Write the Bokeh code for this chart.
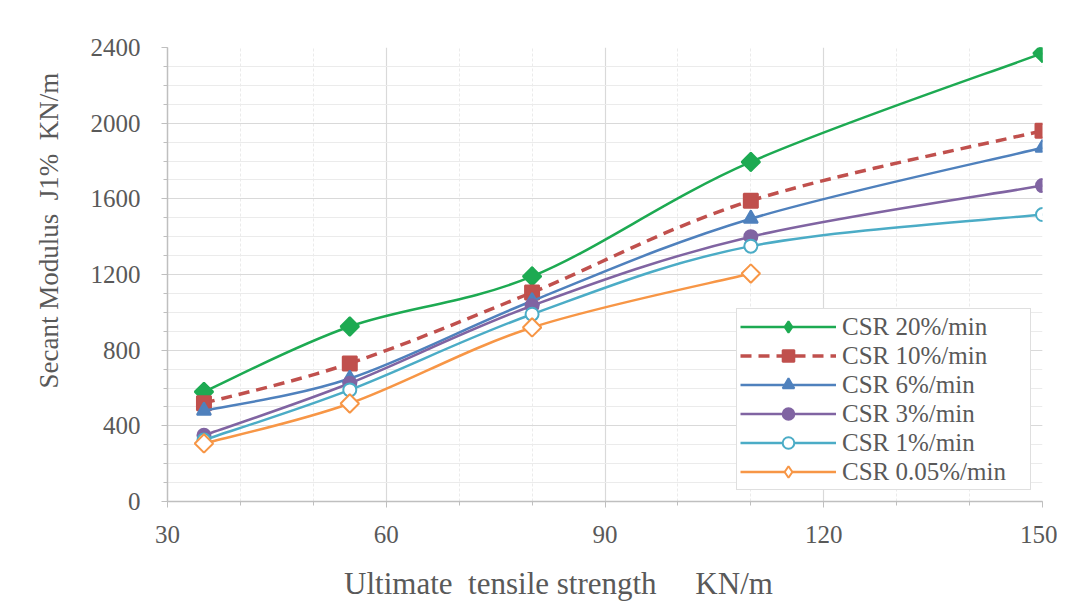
import math
from bokeh.plotting import figure
from bokeh.models import Range1d, FixedTicker, Legend, LegendItem, ColumnDataSource
from bokeh.embed import file_html
from bokeh.resources import INLINE

# ---- data ----
x_vals = [35, 55, 80, 110, 150]
labels = ["CSR 20%/min", "CSR 10%/min", "CSR 6%/min", "CSR 3%/min", "CSR 1%/min", "CSR 0.05%/min"]
csr_20 = [580, 925, 1190, 1795, 2370]
csr_10 = [520, 730, 1105, 1590, 1960]
csr_6 = [480, 650, 1060, 1495, 1870]
csr_3 = [350, 625, 1035, 1400, 1670]
csr_1 = [325, 590, 990, 1350, 1517]
csr_005 = [307, 518, 920, 1205]
x_ticks = [30, 60, 90, 120, 150]
y_ticks = [0, 400, 800, 1200, 1600, 2000, 2400]
x_minor = list(range(30, 151, 10))
y_minor = list(range(0, 2401, 100))

series = [csr_20, csr_10, csr_6, csr_3, csr_1, csr_005]
colors = ["#1daa52", "#c0504d", "#4f81bd", "#8064a2", "#4bacc6", "#f79646"]
markers = ["square", "square", "triangle", "circle", "circle", "square"]
legend_markers = ["diamond", "square", "triangle", "circle", "circle", "diamond"]
angles = [math.pi / 4, 0, 0, 0, 0, math.pi / 4]
msizes = [13, 14, 14, 13, 13, 13]
legend_sizes = [18, 14, 14, 13, 13, 18]
mfill = [True, True, True, True, False, False]
dashes = ["solid", "11 7", "solid", "solid", "solid", "solid"]
lwidths = [2.5, 3.5, 2.5, 2.5, 2.5, 2.5]

FONT = "Liberation Serif"
GRAY = "#595959"
NB = "\u00a0"

p = figure(width=1057, height=606, output_backend="svg", toolbar_location=None,
           x_range=Range1d(30, 150), y_range=Range1d(0, 2400),
           min_border_left=167, min_border_right=15, min_border_top=47, min_border_bottom=105,
           background_fill_color="white", border_fill_color="white")
p.outline_line_color = None

for ax, ticks, minor in ((p.xaxis[0], x_ticks, x_minor), (p.yaxis[0], y_ticks, y_minor)):
    ax.ticker = FixedTicker(ticks=ticks, minor_ticks=minor)
    ax.axis_line_color = "#bfbfbf"
    ax.axis_line_width = 1.5
    ax.major_tick_line_color = "#bfbfbf"
    ax.minor_tick_line_color = "#bfbfbf"
    ax.major_tick_in = 0
    ax.major_tick_out = 6
    ax.minor_tick_in = 0
    ax.minor_tick_out = 4
    ax.major_label_text_font = FONT
    ax.major_label_text_font_size = "25px"
    ax.major_label_text_color = GRAY
    ax.axis_label_text_font = FONT
    ax.axis_label_text_font_style = "normal"
    ax.axis_label_text_color = GRAY

p.xaxis.axis_label_text_font_size = "31px"
p.yaxis.axis_label_text_font_size = "27px"
p.xaxis.axis_label = "Ultimate" + NB + " tensile strength" + NB * 4 + " KN/m" + NB * 12
p.yaxis.axis_label = NB * 13 + "Secant Modulus" + NB + " J1%" + NB + " KN/m"
p.xaxis.major_label_standoff = 18
p.yaxis.major_label_standoff = 21
p.xaxis.axis_label_standoff = 20
p.yaxis.axis_label_standoff = 24

for g in (p.xgrid[0], p.ygrid[0]):
    g.grid_line_color = "#d9d9d9"
    g.grid_line_width = 1.2
    g.minor_grid_line_color = "#ebebeb"
    g.minor_grid_line_width = 1
p.xgrid[0].minor_grid_line_dash = "3 2"


def smooth_controls(xs, ys):
    """Catmull-Rom style bezier control points (Excel-like smoothing) computed from data."""
    n = len(xs)
    x0s, y0s, x1s, y1s, cx0, cy0, cx1, cy1 = [], [], [], [], [], [], [], []
    for i in range(n - 1):
        pa = (xs[i - 1], ys[i - 1]) if i > 0 else (xs[i], ys[i])
        pb = (xs[i], ys[i])
        pc = (xs[i + 1], ys[i + 1])
        pd = (xs[i + 2], ys[i + 2]) if i + 2 < n else (xs[i + 1], ys[i + 1])
        x0s.append(pb[0]); y0s.append(pb[1])
        x1s.append(pc[0]); y1s.append(pc[1])
        cx0.append(pb[0] + (pc[0] - pa[0]) / 6.0)
        cy0.append(pb[1] + (pc[1] - pa[1]) / 6.0)
        cx1.append(pc[0] - (pd[0] - pb[0]) / 6.0)
        cy1.append(pc[1] - (pd[1] - pb[1]) / 6.0)
    return dict(x0=x0s, y0=y0s, x1=x1s, y1=y1s, cx0=cx0, cy0=cy0, cx1=cx1, cy1=cy1)


items = []
for lab, ys, col, mk, lmk, ang, ms, lms, fill, dash, lw in zip(labels, series, colors, markers, legend_markers,
                                                              angles, msizes, legend_sizes, mfill, dashes, lwidths):
    xs = x_vals[:len(ys)]
    src = ColumnDataSource(smooth_controls(xs, ys))
    br = p.bezier(x0="x0", y0="y0", x1="x1", y1="y1", cx0="cx0", cy0="cy0", cx1="cx1", cy1="cy1",
                  source=src, line_color=col, line_width=lw, line_dash=dash)
    fc = col if fill else "white"
    # marker used for the legend swatch (drawn underneath the plot marker)
    lr = p.scatter(xs, ys, marker=lmk, size=lms if ang else ms, line_color=col, line_width=2, fill_color=fc)
    if ang:
        # rotated square = Excel-style diamond in the plot area
        p.scatter(xs, ys, marker=mk, angle=ang, size=ms, line_color=col, line_width=2, fill_color=fc)
    items.append(LegendItem(label=lab, renderers=[br, lr]))

legend = Legend(items=items, location="bottom_right", margin=11, padding=3,
                glyph_width=96, glyph_height=29, spacing=0, label_standoff=6, label_width=185,
                label_text_font=FONT, label_text_font_size="25px", label_text_color=GRAY,
                border_line_color="#bfbfbf", border_line_width=1.5,
                background_fill_color="white", background_fill_alpha=1)
p.add_layout(legend)

open("out.html", "w").write(file_html(p, INLINE))
